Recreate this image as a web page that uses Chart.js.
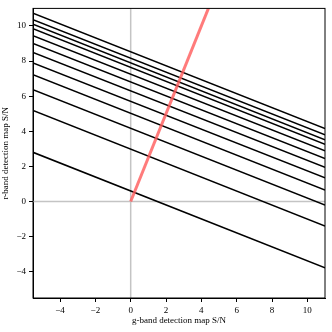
<!DOCTYPE html>
<html>
<head>
<meta charset="utf-8">
<script src="https://cdn.jsdelivr.net/npm/chart.js@4"></script>
<style>
  body { margin: 0; background: #fff; }
</style>
</head>
<body>
<canvas id="chart" width="332" height="332"></canvas>
<script>
// axis extents and tick labels
var xRange = [-5.53, 11.0];
var yRange = [-5.5, 11.0];
var xTicks = [-4, -2, 0, 2, 4, 6, 8, 10];
var yTicks = [-4, -2, 0, 2, 4, 6, 8, 10];

// black lines: y value at the left edge and at the right edge
var lineLeftY  = [10.72, 10.36, 10.1, 9.85, 9.45, 9.0, 8.49, 7.89, 7.22, 6.37, 5.18, 2.80];
var lineRightY = [4.15, 3.8, 3.52, 3.25, 2.88, 2.45, 1.95, 1.35, 0.65, -0.2, -1.4, -3.78];

// red line: from the origin up through the top edge
var redX = [0, 4.8];
var redY = [0, 12];

var serif = "'Liberation Serif', 'DejaVu Serif', serif";

function fmt(v) {
    return v < 0 ? "\u2212" + Math.abs(v) : "" + v;
}

// gray lines at x=0 and y=0 plus the box around the plot
var framePlugin = {
    id: "frame",
    beforeDatasetsDraw(chart) {
        var ctx = chart.ctx, a = chart.chartArea;
        var x0 = chart.scales.x.getPixelForValue(0);
        var y0 = chart.scales.y.getPixelForValue(0);
        ctx.save();
        ctx.strokeStyle = "#c4c4c4";
        ctx.lineWidth = 1.5;
        ctx.beginPath();
        ctx.moveTo(x0, a.top); ctx.lineTo(x0, a.bottom);
        ctx.moveTo(a.left, y0); ctx.lineTo(a.right, y0);
        ctx.stroke();
        ctx.restore();
    },
    afterDraw(chart) {
        var ctx = chart.ctx, a = chart.chartArea;
        ctx.save();
        ctx.strokeStyle = "#000";
        ctx.lineWidth = 1;
        ctx.strokeRect(a.left, a.top, a.right - a.left, a.bottom - a.top);
        ctx.restore();
    }
};

var datasets = [{
    data: redX.map((x, i) => ({x: x, y: redY[i]})),
    borderColor: "rgba(255,90,90,0.8)",
    borderWidth: 3,
    pointRadius: 0,
    clip: 0
}];
for (let i = 0; i < lineLeftY.length; i++) {
    datasets.push({
        data: [{x: xRange[0], y: lineLeftY[i]}, {x: xRange[1], y: lineRightY[i]}],
        borderColor: "#000",
        borderWidth: 1.5,
        pointRadius: 0
    });
}

var config = {
    type: "line",
    data: { datasets: datasets },
    options: {
        responsive: false,
        animation: false,
        layout: { padding: { top: 7, right: 7, left: 0, bottom: 0 } },
        plugins: { legend: { display: false }, tooltip: { enabled: false } },
        scales: {
            x: {
                type: "linear",
                min: xRange[0], max: xRange[1],
                afterBuildTicks: (s) => { s.ticks = xTicks.map(v => ({value: v})) },
                afterFit: (s) => { s.height = 34 },
                grid: { drawOnChartArea: false, tickLength: 4, tickColor: "#000", tickWidth: 1 },
                border: { display: true, color: "#000", width: 1 },
                ticks: { color: "#000", padding: 3, maxRotation: 0, font: { family: serif, size: 9 }, callback: fmt },
                title: { display: true, text: "g-band detection map S/N", color: "#000", padding: { top: 0, bottom: 6 }, font: { family: serif, size: 9 } }
            },
            y: {
                type: "linear",
                min: yRange[0], max: yRange[1],
                afterBuildTicks: (s) => { s.ticks = yTicks.map(v => ({value: v})) },
                afterFit: (s) => { s.width = 33 },
                grid: { drawOnChartArea: false, tickLength: 4, tickColor: "#000", tickWidth: 1 },
                border: { display: true, color: "#000", width: 1 },
                ticks: { color: "#000", padding: 3, font: { family: serif, size: 9 }, callback: fmt },
                title: { display: true, text: "r-band detection map S/N", color: "#000", padding: { top: 0, bottom: 2 }, font: { family: serif, size: 9 } }
            }
        }
    },
    plugins: [framePlugin]
};

new Chart(document.getElementById("chart"), config);
</script>
</body>
</html>
